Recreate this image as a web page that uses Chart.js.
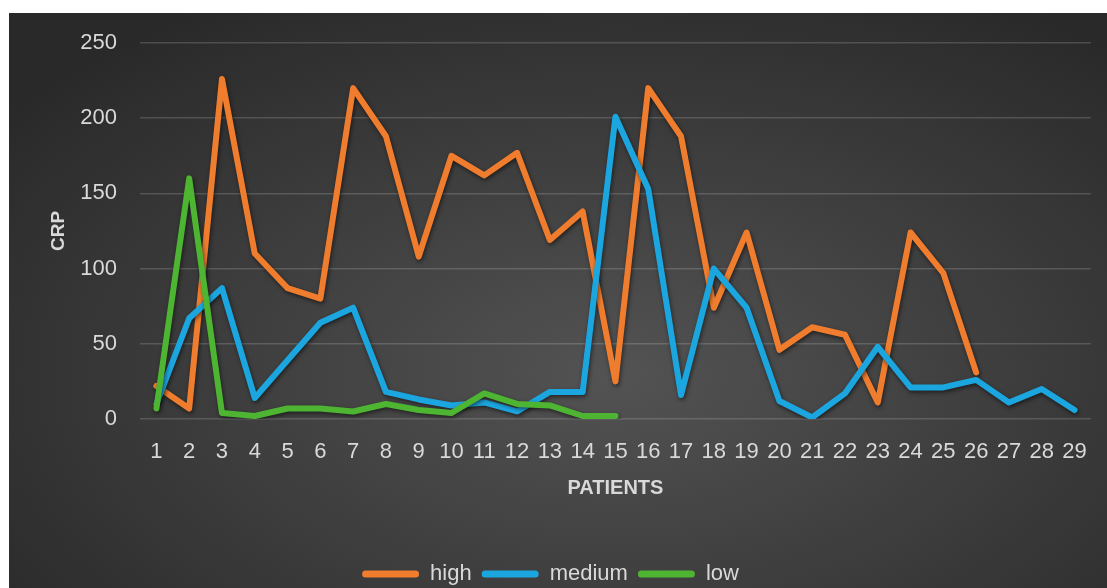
<!DOCTYPE html>
<html>
<head>
<meta charset="utf-8">
<title>CRP by patient</title>
<script src="https://cdn.jsdelivr.net/npm/chart.js@4.4.1/dist/chart.umd.min.js"></script>
<style>
    html, body {
        margin: 0;
        padding: 0;
        background: #ffffff;
        overflow: hidden;
        width: 1107px;
        height: 588px;
    }
    #chart-box {
        position: absolute;
        left: 9px;
        top: 13px;
        width: 1098px;
        height: 582px;
        background: radial-gradient(ellipse 70% 75% at 55% 62%, #535353 0%, #404040 45%, #292929 100%);
    }
</style>
</head>
<body>
<div id="chart-box">
    <canvas id="mainChart"></canvas>
</div>
<script>
// Values
const patients = ['1', '2', '3', '4', '5', '6', '7', '8', '9', '10', '11', '12', '13', '14', '15',
    '16', '17', '18', '19', '20', '21', '22', '23', '24', '25', '26', '27', '28', '29'];
const highCrp = [22, 7, 226, 110, 87, 80, 220, 188, 108, 175, 162, 177, 119, 138, 25,
    220, 188, 74, 124, 46, 61, 56, 11, 124, 97, 31, null, null, null];
const mediumCrp = [10, 67, 87, 14, 39, 64, 74, 18, 13, 9, 11, 5, 18, 18, 201,
    153, 16, 100, 74, 12, 1, 17, 48, 21, 21, 26, 11, 20, 6];
const lowCrp = [7, 160, 4, 2, 7, 7, 5, 10, 6, 4, 17, 10, 9, 2, 2];
const yTicks = [0, 50, 100, 150, 200, 250];

const textColor = '#d9d9d9';
const fontFamily = '"Liberation Sans", Arial, sans-serif';

// soft drop shadow under the lines, like the office style
const lineShadow = {
    id: 'lineShadow',
    beforeDatasetsDraw(chart) {
        const ctx = chart.ctx;
        ctx.save();
        ctx.shadowColor = 'rgba(0, 0, 0, 0.55)';
        ctx.shadowBlur = 4;
        ctx.shadowOffsetX = 1;
        ctx.shadowOffsetY = 2;
    },
    afterDatasetsDraw(chart) {
        chart.ctx.restore();
    }
};

function makeSeries(label, data, color, order) {
    return {
        label: label,
        data: data,
        borderColor: color,
        backgroundColor: color,
        borderWidth: 6,
        borderCapStyle: 'round',
        borderJoinStyle: 'round',
        pointRadius: 0,
        pointHoverRadius: 0,
        tension: 0,
        fill: false,
        spanGaps: false,
        order: order
    };
}

function legendLabels(chart) {
    // flat pill shaped keys, no outline
    const items = Chart.defaults.plugins.legend.labels.generateLabels(chart);
    items.forEach(item => { item.lineWidth = 0; });
    return items;
}

function renderChart() {
    const ctx = document.getElementById('mainChart').getContext('2d');

    new Chart(ctx, {
        type: 'line',
        data: {
            labels: patients,
            datasets: [
                makeSeries('high', highCrp, '#f07d2e', 3),
                makeSeries('medium', mediumCrp, '#1ca6e0', 2),
                makeSeries('low', lowCrp, '#4eb533', 1)
            ]
        },
        options: {
            responsive: true,
            maintainAspectRatio: false,
            animation: false,
            layout: {
                autoPadding: false,
                padding: { left: 0, right: 15, top: 30, bottom: 0 }
            },
            plugins: {
                tooltip: { enabled: false },
                legend: {
                    position: 'bottom',
                    labels: {
                        color: textColor,
                        font: { family: fontFamily, size: 22 },
                        boxWidth: 57,
                        boxHeight: 7,
                        useBorderRadius: true,
                        borderRadius: 3.5,
                        padding: 10,
                        generateLabels: legendLabels,
                        sort: (a, b) => a.datasetIndex - b.datasetIndex
                    }
                }
            },
            scales: {
                x: {
                    offset: true,
                    border: { display: false },
                    grid: { display: false, drawTicks: false },
                    ticks: {
                        color: textColor,
                        font: { family: fontFamily, size: 22 },
                        padding: 20,
                        maxRotation: 0,
                        autoSkip: false
                    },
                    title: {
                        display: true,
                        text: 'PATIENTS',
                        color: textColor,
                        font: { family: fontFamily, size: 20, weight: 'bold' },
                        padding: { top: 0, bottom: 53 }
                    },
                    afterFit: (scale) => { scale.height = 134; }
                },
                y: {
                    min: 0,
                    max: 250,
                    border: { display: false },
                    grid: {
                        color: 'rgba(255, 255, 255, 0.16)',
                        lineWidth: 1.5,
                        drawTicks: false
                    },
                    afterBuildTicks: (scale) => {
                        scale.ticks = yTicks.map(v => ({ value: v }));
                    },
                    ticks: {
                        color: textColor,
                        font: { family: fontFamily, size: 22 },
                        padding: 23
                    },
                    title: {
                        display: true,
                        text: 'CRP',
                        color: textColor,
                        font: { family: fontFamily, size: 19, weight: 'bold' },
                        padding: { top: 38, bottom: 0 }
                    },
                    afterFit: (scale) => {
                        scale.width = 131;
                        // the top label may overhang the plot area
                        scale.paddingTop = 0;
                        scale.paddingBottom = 0;
                    }
                }
            }
        },
        plugins: [lineShadow]
    });
}

renderChart();
</script>
</body>
</html>
